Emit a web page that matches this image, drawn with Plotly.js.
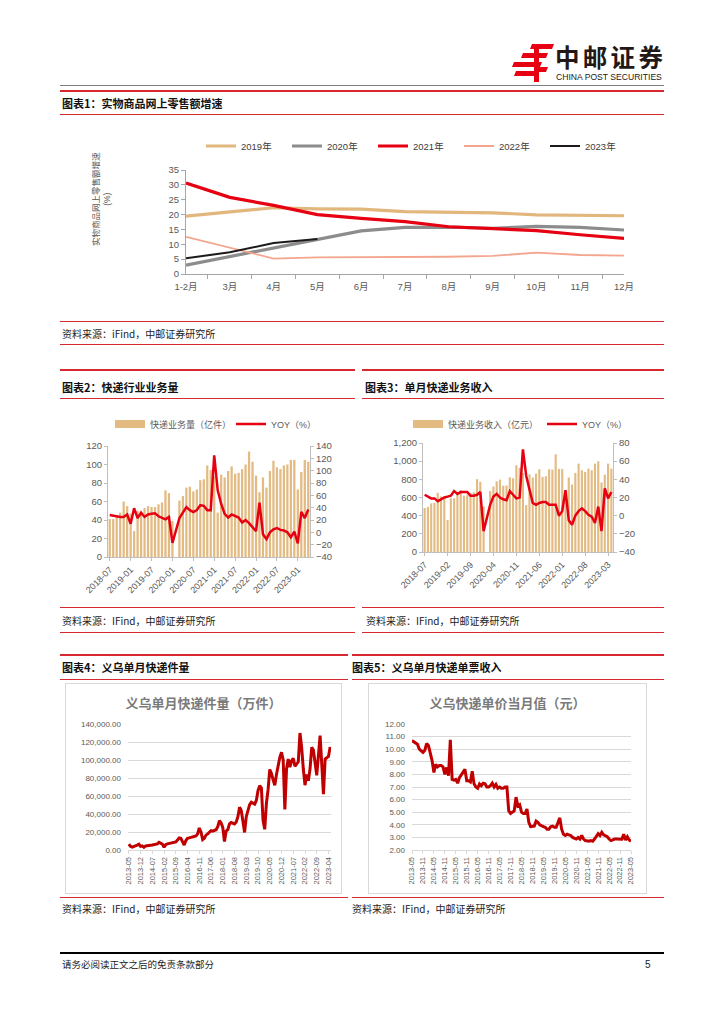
<!DOCTYPE html>
<html><head><meta charset="utf-8">
<script src="https://cdn.plot.ly/plotly-3.0.1.min.js"></script>
<style>
body{margin:0;background:#fff;}
#page{position:relative;width:724px;height:1024px;overflow:hidden;font-family:"Noto Sans CJK SC","Liberation Sans",sans-serif;color:#000;background:#fff;}
.ln{position:absolute;height:1px;background:#d7282f;}
.th{height:2px;}
.ttl{position:absolute;font-size:11px;font-weight:bold;line-height:14px;white-space:nowrap;color:#111;}
.src{position:absolute;font-size:10px;line-height:13px;white-space:nowrap;color:#222;}
.box{position:absolute;border:1px solid #d9d9d9;}
.plot{position:absolute;}
</style></head><body><div id="page">

<svg style="position:absolute;left:512px;top:44px" width="42" height="38" viewBox="0 0 42 38">
  <polygon points="20,0 42,0 40,5 18,5" fill="#e60012"/>
  <polygon points="11,9 36,9 34,14 9,14" fill="#e60012"/>
  <polygon points="2,18 30,18 28,23 0,23" fill="#e60012"/>
  <polygon points="4,27 26,27 24,32 2,32" fill="#e60012"/>
  <polygon points="22,5 27,5 27,38 22,38" fill="#e60012"/>
  <polygon points="27,23 36,23 34,28 27,28" fill="#e60012"/>
</svg>
<div style="position:absolute;left:555px;top:45px;font-size:24.5px;font-weight:bold;letter-spacing:3.3px;line-height:24px;height:24px;color:#231815;white-space:nowrap;">中邮证券</div>
<div style="position:absolute;left:556px;top:73px;font-size:8.6px;line-height:9px;font-family:'Liberation Sans',sans-serif;color:#231815;white-space:nowrap;">CHINA POST SECURITIES</div>

<div class="ln" style="top:85px;left:60px;width:604px;background:#7f7f7f;"></div>
<div class="ln th" style="top:90px;left:60px;width:604px;"></div>
<div class="ttl" style="left:62px;top:96px;">图表1：实物商品网上零售额增速</div>
<div class="ln" style="top:114px;left:60px;width:604px;"></div>
<div id="c1" class="plot" style="left:0px;top:120px;width:724px;height:190px;"></div>
<div class="ln" style="top:321px;left:60px;width:604px;"></div>
<div class="src" style="left:62px;top:327px;">资料来源：iFind，中邮证券研究所</div>
<div class="ln" style="top:344px;left:60px;width:604px;"></div>

<div class="ln th" style="top:369px;left:60px;width:295px;"></div>
<div class="ln th" style="top:369px;left:362px;width:302px;"></div>
<div class="ttl" style="left:62px;top:380px;">图表2：快递行业业务量</div>
<div class="ttl" style="left:365px;top:380px;">图表3：单月快递业务收入</div>
<div class="ln" style="top:398px;left:60px;width:295px;"></div>
<div class="ln" style="top:398px;left:362px;width:302px;"></div>
<div id="c2" class="plot" style="left:0px;top:400px;width:360px;height:205px;"></div>
<div id="c3" class="plot" style="left:360px;top:400px;width:364px;height:205px;"></div>
<div class="ln" style="top:607px;left:60px;width:295px;"></div>
<div class="ln" style="top:607px;left:362px;width:302px;"></div>
<div class="src" style="left:62px;top:614px;">资料来源：IFind，中邮证券研究所</div>
<div class="src" style="left:366px;top:614px;">资料来源：IFind，中邮证券研究所</div>
<div class="ln" style="top:632px;left:60px;width:295px;"></div>
<div class="ln" style="top:632px;left:362px;width:302px;"></div>

<div class="ln th" style="top:654px;left:60px;width:288px;"></div>
<div class="ln th" style="top:654px;left:352px;width:312px;"></div>
<div class="ttl" style="left:62px;top:660px;">图表4：义乌单月快递件量</div>
<div class="ttl" style="left:352px;top:660px;">图表5：义乌单月快递单票收入</div>
<div class="ln" style="top:679px;left:60px;width:288px;"></div>
<div class="ln" style="top:679px;left:352px;width:312px;"></div>
<div class="box" style="left:65px;top:683px;width:275px;height:209px;"><div id="c4" style="width:275px;height:209px;"></div></div>
<div class="box" style="left:368px;top:683px;width:277px;height:209px;"><div id="c5" style="width:277px;height:209px;"></div></div>
<div class="ln" style="top:897px;left:60px;width:288px;"></div>
<div class="ln" style="top:897px;left:352px;width:312px;"></div>
<div class="src" style="left:62px;top:902px;">资料来源：IFind，中邮证券研究所</div>
<div class="src" style="left:352px;top:902px;">资料来源：IFind，中邮证券研究所</div>

<div class="ln" style="top:952px;left:60px;width:604px;height:1.5px;background:#000;"></div>
<div class="src" style="left:62px;top:958px;font-size:9.5px;">请务必阅读正文之后的免责条款部分</div>
<div class="src" style="left:645px;top:958px;font-size:10px;font-family:'Liberation Sans',sans-serif;">5</div>

</div>
<script>
// ---------- Chart 1 data ----------
const months1 = ["1-2月","3月","4月","5月","6月","7月","8月","9月","10月","11月","12月"];
const y2019 = [19.5,21.0,22.3,21.9,21.8,21.0,20.9,20.6,19.9,19.8,19.6];
const y2020 = [3.0,5.9,8.6,11.5,14.5,15.7,15.8,15.4,16.0,15.7,14.8];
const y2021 = [30.6,25.8,23.1,20.0,18.7,17.6,15.9,15.2,14.6,13.2,12.0];
const y2022 = [12.5,8.8,5.2,5.6,5.6,5.7,5.8,6.1,7.2,6.4,6.2];
const y2023 = [5.3,7.3,10.4,11.8];

// ---------- Charts 2 & 3 data ----------
const m58 = [
"2018-07","2018-08","2018-09","2018-10","2018-11","2018-12",
"2019-01","2019-02","2019-03","2019-04","2019-05","2019-06","2019-07","2019-08","2019-09","2019-10","2019-11","2019-12",
"2020-01","2020-02","2020-03","2020-04","2020-05","2020-06","2020-07","2020-08","2020-09","2020-10","2020-11","2020-12",
"2021-01","2021-02","2021-03","2021-04","2021-05","2021-06","2021-07","2021-08","2021-09","2021-10","2021-11","2021-12",
"2022-01","2022-02","2022-03","2022-04","2022-05","2022-06","2022-07","2022-08","2022-09","2022-10","2022-11","2022-12",
"2023-01","2023-02","2023-03","2023-04"];
const vol2 = [
41,41,45,48,60,55,
47,28,50,49,53,55,54,54,57,59,72,69,
39,null,61,66,75,76,71,73,83,84,99,94,
87,48,89,86,93,98,90,91,95,100,114,103,
88,70,86,75,93,104,97,95,99,100,105,105,
73,92,105,103];
const yoy2 = [
28,27,25,25,25,29,
14,39,23,32,25,29,30,31,26,23,21,25,
-17,null,23,33,41,36,33,36,44,43,36,36,
125,68,46,30,24,29,27,24,16,20,15,9,
2,48,-3,-11,0,5,7,4,3,0,-8,1,
-18,33,23,37];
const ticks2 = ["2018-07","2019-01","2019-07","2020-01","2020-07","2021-01","2021-07","2022-01","2022-07","2023-01"];

const rev3 = [
485,495,535,542,651,612,
600,351,592,592,630,681,620,626,648,658,801,772,
500,null,671,720,778,797,730,732,823,812,955,926,
870,516,856,820,863,911,827,834,911,907,1076,915,
915,660,820,743,871,973,900,882,918,900,973,999,
765,852,973,918];
const yoy3 = [
23,21,19,19,16,18,
20,21,22,27,24,26,26,26,22,22,23,26,
-17,null,12,21,24,20,18,17,27,23,19,20,
73,44,29,14,12,14,15,15,12,12,12,0,
5,28,-5,-10,0,5,8,5,1,-1,-8,10,
-17,30,19,26];
const ticks3 = ["2018-07","2019-02","2019-09","2020-04","2020-11","2021-06","2022-01","2022-08","2023-03"];

// ---------- Charts 4 & 5 data ----------
const m121 = [
"2013-05","2013-06","2013-07","2013-08","2013-09","2013-10","2013-11","2013-12",
"2014-01","2014-02","2014-03","2014-04","2014-05","2014-06","2014-07","2014-08","2014-09","2014-10","2014-11","2014-12",
"2015-01","2015-02","2015-03","2015-04","2015-05","2015-06","2015-07","2015-08","2015-09","2015-10","2015-11","2015-12",
"2016-01","2016-02","2016-03","2016-04","2016-05","2016-06","2016-07","2016-08","2016-09","2016-10","2016-11","2016-12",
"2017-01","2017-02","2017-03","2017-04","2017-05","2017-06","2017-07","2017-08","2017-09","2017-10","2017-11","2017-12",
"2018-01","2018-02","2018-03","2018-04","2018-05","2018-06","2018-07","2018-08","2018-09","2018-10","2018-11","2018-12",
"2019-01","2019-02","2019-03","2019-04","2019-05","2019-06","2019-07","2019-08","2019-09","2019-10","2019-11","2019-12",
"2020-01","2020-02","2020-03","2020-04","2020-05","2020-06","2020-07","2020-08","2020-09","2020-10","2020-11","2020-12",
"2021-01","2021-02","2021-03","2021-04","2021-05","2021-06","2021-07","2021-08","2021-09","2021-10","2021-11","2021-12",
"2022-01","2022-02","2022-03","2022-04","2022-05","2022-06","2022-07","2022-08","2022-09","2022-10","2022-11","2022-12",
"2023-01","2023-02","2023-03","2023-04","2023-05"];
const yiwuVol = [
6500,4000,3200,3800,4500,5500,6500,4000,
4500,3000,4500,5000,5200,5300,5500,5800,6000,6800,8500,7800,
6500,3000,6000,6800,7200,7500,7800,8200,9000,11000,13500,13000,
10000,5500,10500,13000,13500,14000,14000,14500,15500,18000,24500,20000,
11500,13000,16500,18000,20000,21500,21000,21500,22500,26000,32500,30000,
25000,9500,21000,22500,29000,30500,30000,29000,31000,37000,47500,44000,
32000,19500,37000,44000,50500,53000,52000,51000,55000,66000,71500,69000,
33000,23000,52000,67000,89500,85000,78000,72000,84000,94000,103000,108500,
100000,45000,90000,101000,92000,99000,102000,93000,96000,98000,130000,114000,
90000,72000,84000,77000,90000,114000,111000,97000,83000,105000,127000,95000,
62000,101000,103000,104000,114500];
const ticks4 = ["2013-05","2013-12","2014-07","2015-02","2015-09","2016-04","2016-11","2017-06","2018-01","2018-08","2019-03","2019-10","2020-05","2020-12","2021-07","2022-02","2022-09","2023-04"];

const yiwuPrice = [
10.68,10.6,10.5,10.4,10.0,9.85,9.75,9.9,
10.45,10.3,9.75,9.1,8.15,8.8,8.6,8.7,8.7,8.6,8.0,8.55,
7.9,10.75,7.6,7.55,7.6,7.3,7.75,8.0,8.15,8.4,7.5,7.5,
7.4,8.25,7.25,7.0,6.9,7.25,7.1,7.3,7.25,7.0,7.0,7.1,
7.3,7.0,7.2,6.9,7.0,6.9,6.9,7.0,7.0,5.1,4.9,5.0,
5.1,6.2,5.5,5.6,5.0,4.9,4.9,5.25,4.2,3.85,3.85,3.9,
4.3,4.2,4.0,3.9,3.85,3.8,3.65,3.65,3.85,3.9,3.8,3.8,
4.2,4.55,3.65,3.25,3.15,3.25,3.2,3.15,3.0,2.95,2.87,3.0,
2.87,3.15,2.87,2.75,2.7,2.7,2.75,2.7,2.87,3.15,3.3,3.15,
3.4,3.2,3.15,3.05,2.87,2.75,2.8,2.87,2.87,2.87,2.9,2.85,
3.25,2.8,3.05,2.8,2.7];
const ticks5 = ["2013-05","2013-11","2014-05","2014-11","2015-05","2015-11","2016-05","2016-11","2017-05","2017-11","2018-05","2018-11","2019-05","2019-11","2020-05","2020-11","2021-05","2021-11","2022-05","2022-11","2023-05"];

// ---------- styles ----------
const FONT = "Liberation Sans, Noto Sans CJK SC, sans-serif";
const TICK = '#595959';
const AX = '#bfbfbf';
const TAN = '#E2BA82';
const RED = '#E60012';
const cfg = {staticPlot:true, displayModeBar:false};
const base = (w,h,m) => ({width:w,height:h,margin:Object.assign({autoexpand:false},m),paper_bgcolor:'rgba(0,0,0,0)',plot_bgcolor:'rgba(0,0,0,0)',font:{family:FONT,size:9,color:TICK}});

// ---------- Chart 1 ----------
Plotly.newPlot('c1', [
  {x:months1, y:y2019, name:'2019年', mode:'lines', line:{color:'#E2B77E', width:3.2}},
  {x:months1, y:y2020, name:'2020年', mode:'lines', line:{color:'#8C8C8C', width:3.2}},
  {x:months1, y:y2021, name:'2021年', mode:'lines', line:{color:RED, width:3.2}},
  {x:months1, y:y2022, name:'2022年', mode:'lines', line:{color:'#F4A58E', width:1.8}},
  {x:months1, y:y2023, name:'2023年', mode:'lines', line:{color:'#1E1A1A', width:2}}
], Object.assign(base(724,190,{l:186,r:100,t:50,b:36}), {
  showlegend:true,
  legend:{orientation:'h', xref:'container', yref:'container', x:201/724, xanchor:'left', y:1-26/190, yanchor:'middle', entrywidth:41, entrywidthmode:'pixels', font:{size:9.5,color:'#404040'}, traceorder:'normal'},
  xaxis:{type:'category', tickson:'boundaries', ticks:'outside', ticklen:4, tickcolor:'#a6a6a6', showline:true, linecolor:'#a6a6a6', showgrid:false, ticklabelstandoff:4, tickfont:{size:9.5}},
  yaxis:{range:[0,35], dtick:5, ticks:'outside', ticklen:4, tickcolor:'#a6a6a6', showline:true, linecolor:'#a6a6a6', showgrid:false, zeroline:false, tickfont:{size:9.5}},
  annotations:[{text:'实物商品网上零售额增速<br>(%)', textangle:-90, xref:'paper', yref:'paper', x:(101-186)/438, y:(274-199)/104, xanchor:'center', yanchor:'middle', showarrow:false, font:{size:8.5,color:'#595959'}}]
}), cfg);

// ---------- Charts 2 & 3 ----------
// margins l/r are 0 so the legend may use the full width; the axes sit in their domain
function dualLayout(w,h,m,dom,ticks,yr,y2r,y2d,ew,lx,leftFmt){
  return Object.assign(base(w,h,m), {
    bargap:0.35, showlegend:true,
    legend:{orientation:'h', xref:'container', yref:'container', x:lx, xanchor:'left', y:1-24/h, yanchor:'middle', entrywidth:ew, entrywidthmode:'pixels', font:{size:9,color:'#595959'}, traceorder:'normal'},
    xaxis:{type:'category', domain:dom, categoryorder:'array', categoryarray:m58, tickvals:ticks, ticktext:ticks, tickangle:-45, ticks:'outside', ticklen:3, tickcolor:AX, showline:true, linecolor:AX, showgrid:false},
    yaxis:{range:yr, dtick:yr[1]/6, tickformat:leftFmt, ticks:'outside', ticklen:3, tickcolor:AX, showline:true, linecolor:AX, showgrid:false, zeroline:false, tickfont:{size:9.5}},
    yaxis2:{range:y2r, dtick:y2d, overlaying:'y', side:'right', anchor:'x', ticks:'outside', ticklen:3, tickcolor:AX, showline:true, linecolor:AX, showgrid:false, zeroline:false, tickfont:{size:9.5}}
  });
}
Plotly.newPlot('c2', [
  {type:'bar', x:m58, y:vol2, marker:{color:TAN}, showlegend:false, hoverinfo:'skip'},
  {type:'scatter', mode:'lines', x:[null], y:[null], name:'快递业务量（亿件）', line:{color:TAN, width:8}},
  {type:'scatter', mode:'lines', x:m58, y:yoy2, yaxis:'y2', name:'YOY（%）', connectgaps:true, line:{color:RED, width:2.5}}
], dualLayout(360,205,{l:0,r:0,t:46,b:48},[108/360,310/360], ticks2, [0,120], [-40,140], 20, 76, 110/360, ''), cfg);

Plotly.newPlot('c3', [
  {type:'bar', x:m58, y:rev3, marker:{color:TAN}, showlegend:false, hoverinfo:'skip'},
  {type:'scatter', mode:'lines', x:[null], y:[null], name:'快递业务收入（亿元）', line:{color:TAN, width:8}},
  {type:'scatter', mode:'lines', x:m58, y:yoy3, yaxis:'y2', name:'YOY（%）', connectgaps:true, line:{color:RED, width:2.5}}
], dualLayout(364,205,{l:0,r:0,t:43,b:53},[63/364,253/364], ticks3, [0,1200], [-40,80], 20, 89, 48/364, ','), cfg);

// ---------- Charts 4 & 5 ----------
function yiwuLayout(w,m,ttl,ticks,xr,yr,dt,fmt){
  return Object.assign(base(w,209,m), {
    showlegend:false,
    title:{text:ttl, x:0.5, xref:'container', xanchor:'center', y:1-19/209, yref:'container', yanchor:'middle', font:{size:13, color:'#7a7a7a', weight:'bold', family:'Noto Sans CJK SC, sans-serif'}},
    xaxis:{type:'category', categoryorder:'array', categoryarray:m121, range:xr, tickvals:ticks, ticktext:ticks, tickangle:-90, ticks:'outside', ticklen:3, tickcolor:'#d9d9d9', showline:true, linecolor:'#d9d9d9', showgrid:false, tickfont:{size:7.5,color:TICK}},
    yaxis:{range:yr, dtick:dt, tickformat:fmt, showgrid:true, gridcolor:'#d9d9d9', showline:false, zeroline:false, ticks:'', ticklabelstandoff:6, tickfont:{size:8,color:TICK}}
  });
}
Plotly.newPlot('c4', [
  {type:'scatter', mode:'lines', x:m121, y:yiwuVol, line:{color:'#C00000', width:3}}
], yiwuLayout(275,{l:62,r:10,t:40,b:43}, '义乌单月快递件量（万件）', ticks4, [-0.5,120.5], [0,140000], 20000, ',.2f'), cfg);

Plotly.newPlot('c5', [
  {type:'scatter', mode:'lines', x:m121, y:yiwuPrice, line:{color:'#C00000', width:3}}
], yiwuLayout(277,{l:43,r:15,t:40,b:43}, '义乌快递单价当月值（元）', ticks5, [0,120], [2,12], 1, '.2f'), cfg);
</script>
</body></html>
